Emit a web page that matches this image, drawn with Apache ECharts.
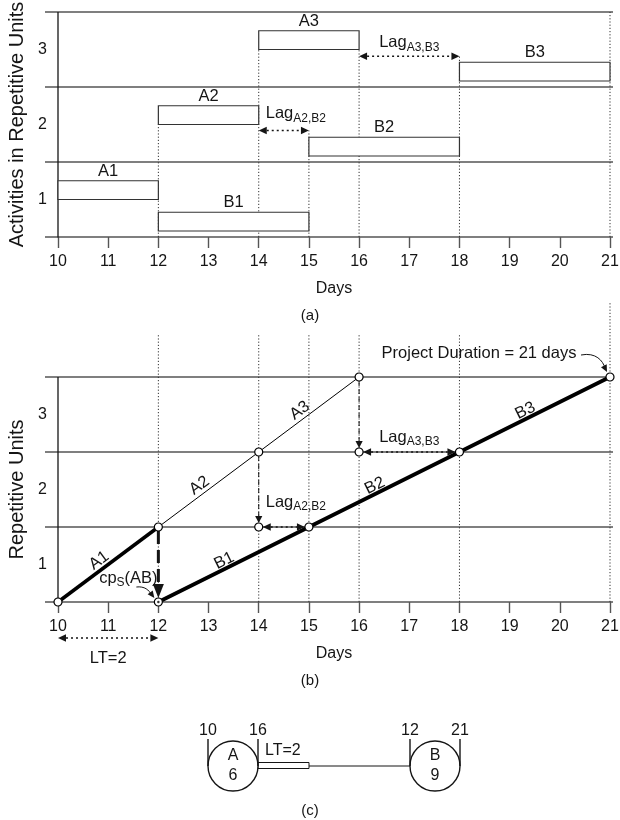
<!DOCTYPE html>
<html><head><meta charset="utf-8">
<script src="https://cdn.jsdelivr.net/npm/echarts@6/dist/echarts.min.js"></script>
<style>html,body{margin:0;padding:0;background:#fff}#c{width:620px;height:820px}</style>
</head><body><div id="c"></div>
<script>
// ---------- data ----------
const days = [10,11,12,13,14,15,16,17,18,19,20,21];
const unitTicks = ['1','2','3'];
const unitLines = [0,1,2,3];

// (a) bar chart of activities
const barNames = ['A1','B1','A2','B2','A3','B3'];
const barStart = [10,12,12,15,14,18];
const barEnd   = [12,15,14,18,16,21];
const barLow   = [0.5,0.08,1.5,1.08,2.5,2.08];
const barHigh  = [0.75,0.33,1.75,1.33,2.75,2.33];
const guideDaysA = [12,14,15,16,18,21];
const guideTopA  = [1.5,2.5,1.42,2.5,2.42,3];

// lags
const lagNames = ['A2,B2','A3,B3'];
const lagFrom = [14,16];
const lagTo   = [15,18];
const lagUnitA = [1.42,2.41];
const lagUnitB = [1,2];

// (b) line of balance
const lineANames = ['A1','A2','A3'];
const lineA = [[10,0],[12,1],[14,2],[16,3]];
const lineBNames = ['B1','B2','B3'];
const lineB = [[12,0],[15,1],[18,2],[21,3]];
const guideDaysB = [12,14,15,16,18,21];
const guideTopB  = [3.58,3.58,3.58,3.58,3.58,4.0];

// (c) network
const nodeNames  = ['A','B'];
const nodeDur    = [6,9];
const nodeStart  = [10,12];
const nodeFinish = [16,21];
const leadTime = 2;
const projectDuration = 21;

// ---------- helpers ----------
const FONT = '"Liberation Sans", Arial, Helvetica, sans-serif';
const INK = '#151515';
function unitVec(p1,p2){const dx=p2[0]-p1[0],dy=p2[1]-p1[1];const L=Math.hypot(dx,dy)||1;return [dx/L,dy/L,L];}
function head(tx,ty,ux,uy,len,hw){
  const bx=tx-ux*len, by=ty-uy*len;
  return {type:'polygon',shape:{points:[[tx,ty],[bx-uy*hw,by+ux*hw],[bx+uy*hw,by-ux*hw]]},style:{fill:INK}};
}
function dblArrow(p1,p2,inset){
  const [ux,uy]=unitVec(p1,p2); const len=8, hw=3.8;
  const a=[p1[0]+ux*inset,p1[1]+uy*inset], b=[p2[0]-ux*inset,p2[1]-uy*inset];
  return [
    {type:'line',shape:{x1:a[0]+ux*len,y1:a[1]+uy*len,x2:b[0]-ux*len,y2:b[1]-uy*len},style:{stroke:INK,lineWidth:1.6,lineDash:[2,3]}},
    head(a[0],a[1],-ux,-uy,len,hw), head(b[0],b[1],ux,uy,len,hw)
  ];
}
function txt(x,y,text,size,align,extra){
  return Object.assign({type:'text',x:x,y:y,style:{text:text,x:0,y:0,fill:INK,fontSize:size,fontFamily:FONT,align:align||'center',verticalAlign:'middle'}},extra||{});
}
const subRich = {
  a:{fontSize:16.5,fontFamily:FONT,fill:INK,color:INK,lineHeight:22},
  s:{fontSize:12,fontFamily:FONT,fill:INK,color:INK,lineHeight:12,verticalAlign:'bottom'}
};
function richTxt(x,y,text,align){
  return {type:'text',x:x,y:y,style:{text:text,rich:subRich,x:0,y:0,fill:INK,align:align,verticalAlign:'middle'}};
}

function mkX(g){
  return {gridIndex:g,type:'value',min:days[0],max:days[days.length-1],interval:1,
    axisLine:{show:false},axisTick:{show:true,length:11,lineStyle:{color:'#555',width:1.4}},
    axisLabel:{fontSize:16,color:INK,margin:17,fontFamily:FONT},splitLine:{show:false},
    name:'Days',nameLocation:'middle',nameGap:44,nameTextStyle:{fontSize:16,color:INK,fontFamily:FONT}};
}
function mkY(g,name){
  return {gridIndex:g,type:'value',min:0,max:unitLines[unitLines.length-1],interval:0.5,
    axisLine:{show:false},axisTick:{show:false},splitLine:{show:false},
    axisLabel:{fontSize:16,color:INK,margin:11,fontFamily:FONT,
      formatter:v=>Math.abs((v%1)-0.5)<1e-6?unitTicks[Math.floor(v)]:''},
    name:name,nameLocation:'middle',nameGap:27,nameTextStyle:{fontSize:20,color:INK,fontFamily:FONT}};
}
function frameSeries(g){
  return {type:'custom',xAxisIndex:g,yAxisIndex:g,silent:true,z:1,
    data:unitLines.map(u=>[days[0],u]),
    renderItem:(p,api)=>{const y=api.value(1);const a=api.coord([days[0],y]),b=api.coord([days[days.length-1],y]);
      return {type:'line',shape:{x1:a[0]-13,y1:a[1],x2:b[0]+3,y2:b[1]},style:{stroke:'#555',lineWidth:1.4}};}};
}
function axisSeries(g){
  return {type:'custom',xAxisIndex:g,yAxisIndex:g,silent:true,z:2,
    data:[[days[0],0,unitLines[unitLines.length-1]]],
    renderItem:(p,api)=>{const a=api.coord([api.value(0),api.value(1)]),b=api.coord([api.value(0),api.value(2)]);
      return {type:'line',shape:{x1:a[0],y1:a[1]+0.5,x2:b[0],y2:b[1]},style:{stroke:INK,lineWidth:1.3}};}};
}
function guideSeries(g,dd,tops){
  return {type:'custom',xAxisIndex:g,yAxisIndex:g,silent:true,z:1,
    data:dd.map((d,i)=>[d,tops[i]]),
    renderItem:(p,api)=>{const a=api.coord([api.value(0),0]),b=api.coord([api.value(0),api.value(1)]);
      return {type:'line',shape:{x1:a[0],y1:a[1],x2:b[0],y2:b[1]},style:{stroke:'#333',lineWidth:1,lineDash:[1.2,2]}};}};
}
function lagSeries(g,units,inset,dyNarrow,dyWide){
  return {type:'custom',xAxisIndex:g,yAxisIndex:g,silent:true,z:6,
    data:lagFrom.map((f,i)=>[f,units[i],lagTo[i]]),
    renderItem:(p,api)=>{
      const i=p.dataIndex;
      const a=api.coord([api.value(0),api.value(1)]),b=api.coord([api.value(2),api.value(1)]);
      const ch=dblArrow(a,b,inset);
      const narrow=(lagTo[i]-lagFrom[i])<=1;
      const t='{a|Lag}{s|'+lagNames[i]+'}';
      if(narrow) ch.push(richTxt(a[0]+7,a[1]+dyNarrow,t,'left'));
      else ch.push(richTxt((a[0]+b[0])/2,a[1]+dyWide,t,'center'));
      return {type:'group',children:ch};
    }};
}

const segData=[], segNames=[];
lineANames.forEach((n,i)=>{segData.push([lineA[i][0],lineA[i][1],lineA[i+1][0],lineA[i+1][1]]);segNames.push(n);});
lineBNames.forEach((n,i)=>{segData.push([lineB[i][0],lineB[i][1],lineB[i+1][0],lineB[i+1][1]]);segNames.push(n);});

const dropFrom=[lineA[1],lineA[2],lineA[3]];
const dropTo=[lineB[0],[lagFrom[0],lagUnitB[0]],[lagFrom[1],lagUnitB[1]]];

const pointData = lineA.concat(lineB).concat(lagFrom.map((f,i)=>[f,lagUnitB[i]]));

const option = {
  animation:false,
  backgroundColor:'#fff',
  textStyle:{fontFamily:FONT},
  grid:[
    {left:58,top:12,width:552,height:225,outerBoundsMode:'none'},
    {left:58,top:377,width:552,height:225,outerBoundsMode:'none'},
    {left:233,top:741,width:202,height:50,outerBoundsMode:'none'}
  ],
  xAxis:[mkX(0),mkX(1),{gridIndex:2,type:'value',min:0,max:1,show:false}],
  yAxis:[mkY(0,'Activities in Repetitive Units'),mkY(1,'Repetitive Units'),{gridIndex:2,type:'value',min:0,max:1,show:false}],
  graphic:[
    {type:'text',left:'center',top:308,style:{text:'(a)',fontSize:15,fontFamily:FONT,fill:INK}},
    {type:'text',left:'center',top:673,style:{text:'(b)',fontSize:15,fontFamily:FONT,fill:INK}},
    {type:'text',left:'center',top:803,style:{text:'(c)',fontSize:15,fontFamily:FONT,fill:INK}}
  ],
  series:[
    // ---- (a) ----
    frameSeries(0), axisSeries(0), guideSeries(0,guideDaysA,guideTopA),
    {type:'custom',xAxisIndex:0,yAxisIndex:0,silent:true,z:4,
      data:barNames.map((n,i)=>[barStart[i],barLow[i],barEnd[i],barHigh[i]]),
      renderItem:(p,api)=>{
        const a=api.coord([api.value(0),api.value(3)]),b=api.coord([api.value(2),api.value(1)]);
        return {type:'group',children:[
          {type:'rect',shape:{x:a[0],y:a[1],width:b[0]-a[0],height:b[1]-a[1]},style:{fill:'#fff',stroke:'#333',lineWidth:1.2}},
          txt((a[0]+b[0])/2,a[1]-9.5,barNames[p.dataIndex],16.5)
        ]};
      }},
    lagSeries(0,lagUnitA,0,-17,-14),

    // ---- (b) ----
    frameSeries(1), axisSeries(1), guideSeries(1,guideDaysB,guideTopB),
    {type:'line',xAxisIndex:1,yAxisIndex:1,silent:true,z:3,data:lineA.slice(0,2),symbol:'none',lineStyle:{color:'#000',width:3.5}},
    {type:'line',xAxisIndex:1,yAxisIndex:1,silent:true,z:3,data:lineA.slice(1),symbol:'none',lineStyle:{color:'#000',width:1}},
    {type:'line',xAxisIndex:1,yAxisIndex:1,silent:true,z:3,data:lineB,symbol:'none',lineStyle:{color:'#000',width:3.8}},
    {type:'custom',xAxisIndex:1,yAxisIndex:1,silent:true,z:5,
      data:dropFrom.map((f,i)=>[f[0],f[1],dropTo[i][0],dropTo[i][1]]),
      renderItem:(p,api)=>{
        const a=api.coord([api.value(0),api.value(1)]),b=api.coord([api.value(2),api.value(3)]);
        const thick=p.dataIndex===0;
        const len=thick?14:7, hw=thick?5.5:3.6;
        const y0=a[1]+4, tip=b[1]-4;
        return {type:'group',children:[
          {type:'line',shape:{x1:a[0],y1:y0,x2:a[0],y2:tip-len+1},style:{stroke:INK,lineWidth:thick?3:1,lineDash:thick?[13,6]:[5,3]}},
          head(b[0],tip,0,1,len,hw)
        ]};
      }},
    lagSeries(1,lagUnitB,4,-25,-15),
    {type:'scatter',xAxisIndex:1,yAxisIndex:1,silent:true,z:8,data:pointData,symbol:'circle',symbolSize:8,
      itemStyle:{color:'#fff',borderColor:'#000',borderWidth:1.2,opacity:1}},
    {type:'scatter',xAxisIndex:1,yAxisIndex:1,silent:true,z:9,data:[lineB[0]],symbol:'circle',symbolSize:2.5,itemStyle:{color:'#000'}},
    {type:'custom',xAxisIndex:1,yAxisIndex:1,silent:true,z:7,data:segData,
      renderItem:(p,api)=>{
        const a=api.coord([api.value(0),api.value(1)]),b=api.coord([api.value(2),api.value(3)]);
        const [ux,uy]=unitVec(a,b); const t=0.46; const d=segNames[p.dataIndex][0]==='A'?8.5:7.5;
        const fx=a[0]+(b[0]-a[0])*t, fy=a[1]+(b[1]-a[1])*t;
        return txt(fx+uy*d,fy-ux*d,segNames[p.dataIndex],16.5,'center',{rotation:Math.atan2(-uy,ux)});
      }},
    // project duration annotation
    {type:'custom',xAxisIndex:1,yAxisIndex:1,silent:true,z:7,data:[[projectDuration,unitLines[unitLines.length-1]]],
      renderItem:(p,api)=>{
        const c=api.coord([api.value(0),api.value(1)]);
        const s=[c[0]-29,c[1]-22], e=[c[0]-3,c[1]-5];
        return {type:'group',children:[
          txt(c[0]-131,c[1]-24,'Project Duration = '+projectDuration+' days',16.5),
          {type:'bezierCurve',shape:{x1:s[0],y1:s[1],cpx1:c[0]-14,cpy1:c[1]-25,cpx2:c[0]-7,cpy2:c[1]-16,x2:e[0]-2,y2:e[1]-4},style:{stroke:INK,lineWidth:1,fill:null}},
          head(e[0],e[1],0.45,0.89,7,3.2)
        ]};
      }},
    // cpS annotation
    {type:'custom',xAxisIndex:1,yAxisIndex:1,silent:true,z:7,data:[lineB[0]],
      renderItem:(p,api)=>{
        const c=api.coord([api.value(0),api.value(1)]);
        const s=[c[0]-22,c[1]-15], e=[c[0]-4,c[1]-4];
        return {type:'group',children:[
          richTxt(c[0]-30,c[1]-24,'{a|cp}{s|S}{a|(AB)}','center'),
          {type:'bezierCurve',shape:{x1:s[0],y1:s[1],cpx1:c[0]-14,cpy1:c[1]-16,cpx2:c[0]-9,cpy2:c[1]-12,x2:e[0]-3,y2:e[1]-3},style:{stroke:INK,lineWidth:1,fill:null}},
          head(e[0],e[1],0.6,0.8,7,3.2)
        ]};
      }},
    // LT arrow under axis
    {type:'custom',xAxisIndex:1,yAxisIndex:1,silent:true,z:7,data:[[lineA[0][0],lineB[0][0]]],
      renderItem:(p,api)=>{
        const a=api.coord([api.value(0),0]),b=api.coord([api.value(1),0]);
        const y=a[1]+36;
        const ch=dblArrow([a[0],y],[b[0],y],0);
        ch.push(txt((a[0]+b[0])/2,a[1]+56,'LT='+leadTime,16.5));
        return {type:'group',children:ch};
      }},

    // ---- (c) ----
    {type:'custom',xAxisIndex:2,yAxisIndex:2,silent:true,z:5,data:[[0,0.5,1,0.5]],
      renderItem:(p,api)=>{
        const a=api.coord([api.value(0),api.value(1)]),b=api.coord([api.value(2),api.value(3)]);
        const r=25, x0=a[0]+r, w=51;
        return {type:'group',children:[
          {type:'rect',shape:{x:x0,y:a[1]-3.5,width:w,height:6},style:{fill:'#fff',stroke:INK,lineWidth:1}},
          {type:'line',shape:{x1:x0+w,y1:a[1],x2:b[0]-r,y2:b[1]},style:{stroke:INK,lineWidth:1}},
          txt(x0+7,a[1]-15,'LT='+leadTime,16,'left')
        ]};
      }},
    {type:'custom',xAxisIndex:2,yAxisIndex:2,silent:true,z:6,data:nodeNames.map((n,i)=>[i,0.5]),
      renderItem:(p,api)=>{
        const i=p.dataIndex; const c=api.coord([api.value(0),api.value(1)]); const r=25;
        return {type:'group',children:[
          {type:'circle',shape:{cx:c[0],cy:c[1],r:r},style:{fill:'#fff',stroke:INK,lineWidth:1.4}},
          {type:'line',shape:{x1:c[0]-r,y1:c[1]-27,x2:c[0]-r,y2:c[1]},style:{stroke:INK,lineWidth:1.4}},
          {type:'line',shape:{x1:c[0]+r,y1:c[1]-27,x2:c[0]+r,y2:c[1]},style:{stroke:INK,lineWidth:1.4}},
          txt(c[0]-r,c[1]-35,String(nodeStart[i]),16),
          txt(c[0]+r,c[1]-35,String(nodeFinish[i]),16),
          txt(c[0],c[1]-10,nodeNames[i],16),
          txt(c[0],c[1]+10,String(nodeDur[i]),16)
        ]};
      }}
  ]
};
const chart = echarts.init(document.getElementById('c'));
chart.setOption(option);
</script></body></html>
